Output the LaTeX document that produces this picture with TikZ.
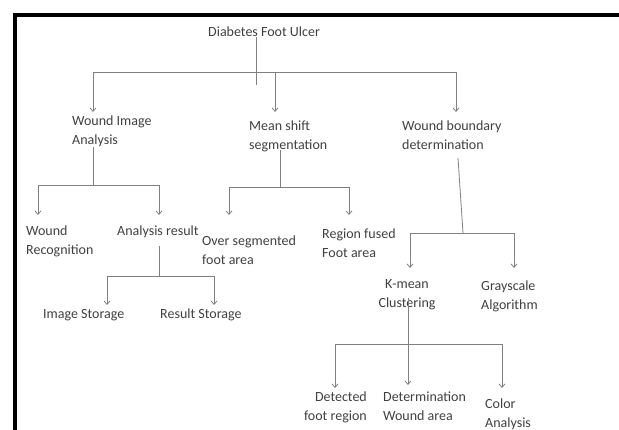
\documentclass[tikz,border=0pt]{standalone}
\usepackage{fontspec}
\setmainfont{Carlito}
\usepackage{tikz}
\usepackage{xcolor}
\usetikzlibrary{positioning, arrows.meta}

\definecolor{txtgray}{HTML}{404040}
\definecolor{lngray}{HTML}{808080}
\tikzset{
  lbl/.style={font=\fontsize{14}{19}\selectfont, text=txtgray, inner sep=0pt, align=left, anchor=north west},
  ln/.style={draw=lngray, line width=0.8pt},
  arr/.style={ln, -{Straight Barb[length=3.5pt,width=6pt]}}
}

\begin{document}
\begin{tikzpicture}[x=1pt, y=-1pt]
\useasboundingbox (0,0) rectangle (619,430);
\draw[line width=4pt] (15,440) -- (15,15) -- (630,15); % frame
%
\node[lbl] (root) at (208,27) {Diabetes Foot Ulcer};
\node[lbl] (wia) at (72,116) {Wound Image\\Analysis};
\node[lbl] (ms) at (249,121) {Mean shift\\segmentation};
\node[lbl] (wbd) at (402,121) {Wound boundary\\determination};
%
\node[lbl] (wr) at (26,226) {Wound\\Recognition};
\node[lbl] (ar) at (117,226) {Analysis result};
\node[lbl] (os) at (202,236) {Over segmented\\foot area};
\node[lbl] (rf) at (322,229) {Region fused\\Foot area};
\node[lbl] (is) at (43,309) {Image Storage};
\node[lbl] (rs) at (160,309) {Result Storage};
%
\node[lbl, align=center, anchor=north] (km) at (407,279) {K-mean\\Clustering};
\node[lbl] (ga) at (481,281) {Grayscale\\Algorithm};
\node[lbl, align=right, anchor=north east] (df) at (367,392) {Detected\\foot region};
\node[lbl] (dw) at (383,392) {Determination\\Wound area};
\node[lbl] (ca) at (485,399) {Color\\Analysis};
%
\coordinate (t0) at (256,85);
\coordinate (h0l) at (93,72);
\coordinate (h0m) at (275,72);
\coordinate (h0r) at (456,72);
\draw[ln] (root.south -| t0) -- (t0);
\draw[ln] (h0l) -- (h0r);
\draw[arr, shorten >=4pt] (h0l) -- (h0l |- wia.north);
\draw[arr, shorten >=9pt] (h0m) -- (h0m |- ms.north);
\draw[arr, shorten >=9pt] (h0r) -- (h0r |- wbd.north);
%
\coordinate (j1) at (93,185);
\coordinate (j1l) at (38,185);
\coordinate (j1r) at (159,185);
\draw[ln] (wia.south -| j1) -- (j1);
\draw[ln] (j1l) -- (j1r);
\draw[arr, shorten >=11pt] (j1l) -- (j1l |- wr.north);
\draw[arr, shorten >=11pt] (j1r) -- (j1r |- ar.north);
%
\coordinate (j2) at (159,276);
\coordinate (j2l) at (107,276);
\coordinate (j2r) at (214,276);
\draw[ln, shorten <=8pt] (ar.south -| j2) -- (j2);
\draw[ln] (j2l) -- (j2r);
\draw[arr, shorten >=4pt] (j2l) -- (j2l |- is.north);
\draw[arr, shorten >=4pt] (j2r) -- (j2r |- rs.north);
%
\coordinate (j3) at (280,187);
\coordinate (j3l) at (229,187);
\coordinate (j3r) at (349,187);
\draw[ln, shorten <=-3pt] (ms.south -| j3) -- (j3);
\draw[ln] (j3l) -- (j3r);
\draw[arr, shorten >=21pt] (j3l) -- (j3l |- os.north);
\draw[arr, shorten >=14pt] (j3r) -- (j3r |- rf.north);
%
\coordinate (t4) at (458,158);
\coordinate (j4) at (463,233);
\coordinate (j4l) at (410,233);
\coordinate (j4r) at (514,233);
\draw[ln] (t4) -- (j4);
\draw[ln] (j4l) -- (j4r);
\draw[arr, shorten >=11pt] (j4l) -- (j4l |- km.north);
\draw[arr, shorten >=13pt] (j4r) -- (j4r |- ga.north);
%
\coordinate (j5) at (408,344);
\coordinate (j5l) at (335,344);
\coordinate (j5r) at (502,344);
\draw[arr, shorten <=-12pt, shorten >=7pt] (km.south -| j5) -- (j5 |- dw.north);
\draw[ln] (j5l) -- (j5r);
\draw[arr, shorten >=4pt] (j5l) -- (j5l |- df.north);
\draw[arr, shorten >=11pt] (j5r) -- (j5r |- ca.north);
\end{tikzpicture}
\end{document}
